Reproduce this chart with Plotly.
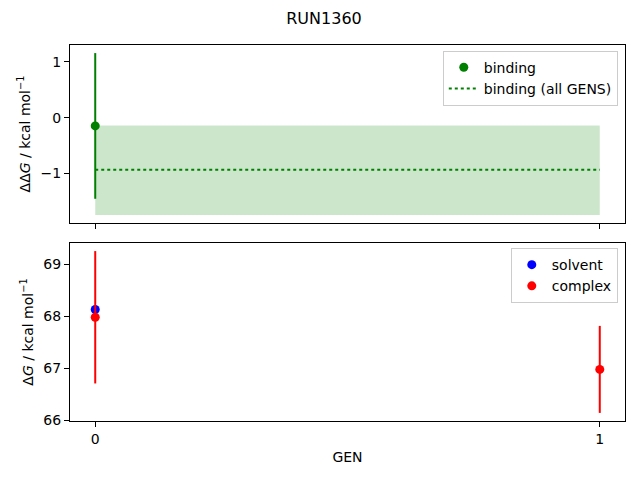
import plotly.graph_objects as go
from plotly.subplots import make_subplots

# DATA ---------------------------------------------------------------------------------------------
gens = [0, 1]

# binding free energy per GEN (only GEN 0 available)
binding_gen = [0]
binding_dg = [-0.15]
binding_err = [1.31]

# binding estimate over all GENS
binding_all_mean = -0.94
binding_all_low = -1.75
binding_all_high = -0.14

# solvent / complex per GEN
solvent_gen = [0]
solvent_dg = [68.13]
solvent_err = [0.0]

complex_gen = [0, 1]
complex_dg = [67.98, 66.98]
complex_err = [1.27, 0.835]

x_ticks = [0, 1]

FONT = "DejaVu Sans"
GREEN = "green"


def padded_range(lo, hi, pad=0.05):
    span = hi - lo
    return [lo - pad * span, hi + pad * span]


# FIGURE -------------------------------------------------------------------------------------------
fig = make_subplots(rows=2, cols=1, shared_xaxes=True, vertical_spacing=20 / 376)

# shaded band for all GENS
fig.add_trace(go.Scatter(
    x=[gens[0], gens[-1], gens[-1], gens[0], gens[0]],
    y=[binding_all_low, binding_all_low, binding_all_high, binding_all_high, binding_all_low],
    fill='toself', fillcolor='rgba(0,128,0,0.2)', line=dict(width=0),
    mode='lines', hoverinfo='skip', showlegend=False), row=1, col=1)

# dotted mean line
fig.add_trace(go.Scatter(
    x=[gens[0], gens[-1]], y=[binding_all_mean] * 2, mode='lines',
    line=dict(color=GREEN, width=2, dash='dot'),
    name='binding (all GENS)', legend='legend'), row=1, col=1)

# binding points with error bars
fig.add_trace(go.Scatter(
    x=binding_gen, y=binding_dg, mode='markers',
    marker=dict(color=GREEN, size=9),
    error_y=dict(type='data', array=binding_err, color=GREEN, thickness=2, width=0),
    name='binding', legend='legend'), row=1, col=1)

# solvent / complex
fig.add_trace(go.Scatter(
    x=solvent_gen, y=solvent_dg, mode='markers',
    marker=dict(color='blue', size=9),
    error_y=dict(type='data', array=solvent_err, color='blue', thickness=2, width=0),
    name='solvent', legend='legend2'), row=2, col=1)

fig.add_trace(go.Scatter(
    x=complex_gen, y=complex_dg, mode='markers',
    marker=dict(color='red', size=9),
    error_y=dict(type='data', array=complex_err, color='red', thickness=2, width=0),
    name='complex', legend='legend2'), row=2, col=1)

# AXES ---------------------------------------------------------------------------------------------
top_lo = min(binding_all_low, min(v - e for v, e in zip(binding_dg, binding_err)))
top_hi = max(binding_all_high, max(v + e for v, e in zip(binding_dg, binding_err)))
bot_vals = [v - e for v, e in zip(complex_dg + solvent_dg, complex_err + solvent_err)] + \
           [v + e for v, e in zip(complex_dg + solvent_dg, complex_err + solvent_err)]

axis_style = dict(showline=True, linecolor='black', linewidth=1, mirror=True,
                  ticks='outside', ticklen=5, tickwidth=1, tickcolor='black',
                  showgrid=False, zeroline=False,
                  tickfont=dict(family=FONT, size=14, color='black'))

fig.update_xaxes(**axis_style, range=padded_range(gens[0], gens[-1]), tickvals=x_ticks)
fig.update_xaxes(showticklabels=False, row=1, col=1)
fig.update_xaxes(title=dict(text='GEN', font=dict(family=FONT, size=14, color='black'), standoff=6),
                 row=2, col=1)

fig.update_yaxes(**axis_style)
fig.update_yaxes(range=padded_range(top_lo, top_hi), dtick=1,
                 title=dict(text='ΔΔ<i>G</i> / kcal mol<sup>−1</sup>',
                            font=dict(family=FONT, size=14, color='black'), standoff=6),
                 row=1, col=1)
fig.update_yaxes(range=padded_range(min(bot_vals), max(bot_vals)), dtick=1,
                 title=dict(text='Δ<i>G</i> / kcal mol<sup>−1</sup>',
                            font=dict(family=FONT, size=14, color='black'), standoff=6),
                 row=2, col=1)

legend_style = dict(xref='paper', yref='paper', xanchor='right', yanchor='top',
                    bgcolor='rgba(255,255,255,0.8)', bordercolor='#cccccc', borderwidth=1,
                    font=dict(family=FONT, size=14, color='black'), tracegroupgap=0,
                    itemwidth=30)

# page body adds an 8px margin, so the figure is 8px smaller than the window
fig.update_layout(
    width=632, height=472,
    margin=dict(l=62, r=15, t=37, b=59),
    paper_bgcolor='white', plot_bgcolor='white',
    font=dict(family=FONT, size=14, color='black'),
    title=dict(text='RUN1360', x=0.5, xanchor='center', y=0.979, yanchor='middle',
               font=dict(family=FONT, size=16, color='black')),
    legend=dict(**legend_style, x=0.987, y=0.985, traceorder='reversed'),
    legend2=dict(**legend_style, x=0.987, y=0.46),
)

fig.write_html("out.html")
